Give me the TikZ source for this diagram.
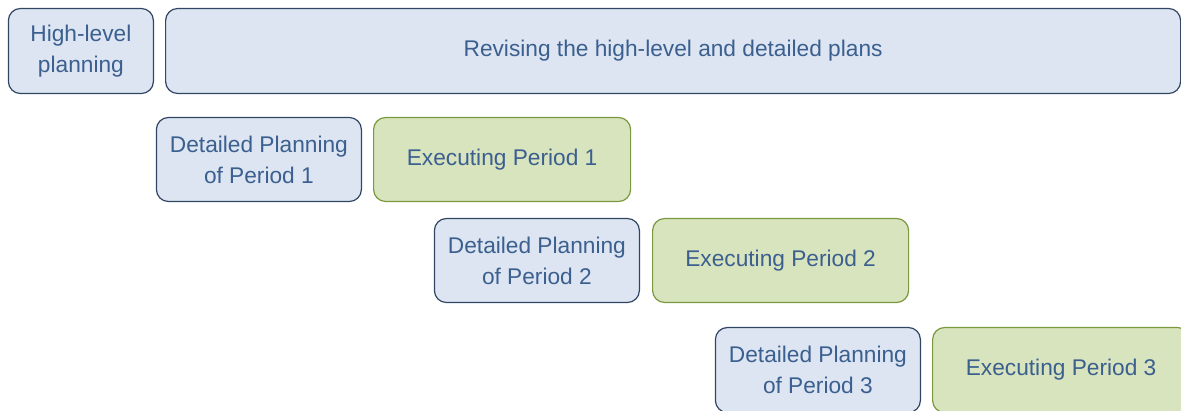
\documentclass[tikz,border=0pt]{standalone}
\usepackage{fontspec}
\setmainfont{Liberation Sans}
\usetikzlibrary{positioning}
\definecolor{paleblue}{RGB}{220,229,241}
\definecolor{darkblue}{RGB}{50,70,100}
\definecolor{palegreen}{RGB}{216,228,189}
\definecolor{olivegreen}{RGB}{122,152,62}
\definecolor{textblue}{RGB}{59,95,143}
\tikzstyle{plan} = [rectangle, rounded corners=12pt, draw=darkblue, fill=paleblue, line width=1.2pt,
  text=textblue, align=center, minimum height=85pt, inner sep=0pt, font=\fontsize{22.7}{31}\selectfont]
\tikzstyle{execute} = [plan, draw=olivegreen, fill=palegreen]

\begin{document}
\begin{tikzpicture}
        \useasboundingbox (0,0) rectangle (1181pt,-410pt);
        % Top row ------------------------------------------------------------------------------------
        \node[plan, anchor=north west, minimum width=145pt] at (7.8pt,-7.9pt) (highlevel){High-level\\planning};
        \node[plan, minimum width=1015pt, right=11pt of highlevel](revising){Revising the high-level and detailed plans};
        % Period 1 -----------------------------------------------------------------------------------
        \node[plan, anchor=north west, minimum width=205pt, minimum height=84pt] at (155.8pt,-116.9pt) (detailed_one){Detailed Planning\\of Period 1};
        \node[execute, minimum width=257pt, minimum height=84pt, right=11pt of detailed_one](executing_one){Executing Period 1};
        % Period 2 -----------------------------------------------------------------------------------
        \node[plan, anchor=north west, minimum width=205pt, minimum height=84pt] at (433.8pt,-217.9pt) (detailed_two){Detailed Planning\\of Period 2};
        \node[execute, minimum width=256pt, minimum height=84pt, right=12pt of detailed_two](executing_two){Executing Period 2};
        % Period 3 -----------------------------------------------------------------------------------
        \node[plan, anchor=north west, minimum width=205pt] at (714.8pt,-326.9pt) (detailed_three){Detailed Planning\\of Period 3};
        \node[execute, minimum width=257pt, right=11pt of detailed_three](executing_three){Executing Period 3};
    \end{tikzpicture}
\end{document}
